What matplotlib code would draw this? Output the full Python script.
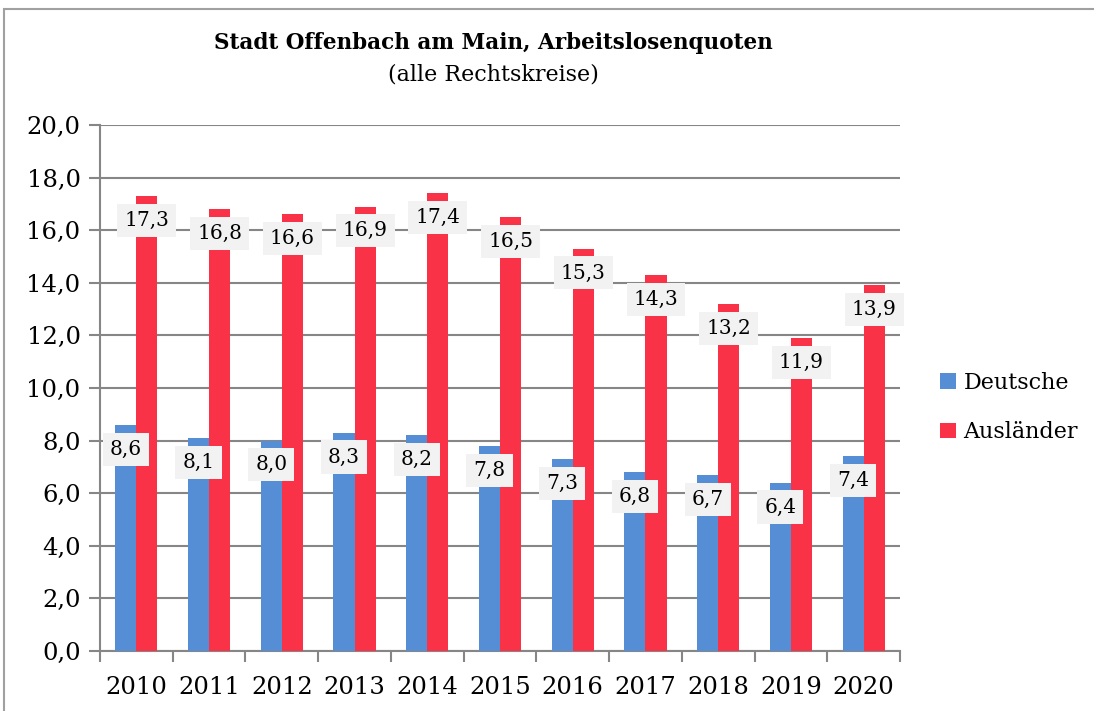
import numpy as np
import matplotlib.pyplot as plt
from matplotlib.patches import Rectangle

years = ['2010', '2011', '2012', '2013', '2014', '2015', '2016', '2017', '2018', '2019', '2020']
deutsche = [8.6, 8.1, 8.0, 8.3, 8.2, 7.8, 7.3, 6.8, 6.7, 6.4, 7.4]
auslaender = [17.3, 16.8, 16.6, 16.9, 17.4, 16.5, 15.3, 14.3, 13.2, 11.9, 13.9]

plt.rcParams['font.family'] = ['DejaVu Serif']

fig = plt.figure(figsize=(10.94, 7.11), dpi=100)
ax = fig.add_axes([0.0914, 0.0844, 0.7313, 0.7398])

# outer frame like the original chart area
fig.patches.append(Rectangle((0.004, -0.1), 1.1, 1.087, transform=fig.transFigure,
                             fill=False, edgecolor='#a0a0a0', lw=1.5))

x = np.arange(len(years))
w = 0.29
b1 = ax.bar(x - w/2, deutsche, w, color='#558ed5', label='Deutsche', zorder=3)
b2 = ax.bar(x + w/2, auslaender, w, color='#f93247', label='Ausländer', zorder=3)

for bars, vals in ((b1, deutsche), (b2, auslaender)):
    for r, v in zip(bars, vals):
        ax.annotate(('%.1f' % v).replace('.', ','),
                    (r.get_x() + r.get_width()/2, v), xytext=(0, -17.5),
                    textcoords='offset points', ha='center', va='center',
                    fontsize=14.5, zorder=5,
                    bbox=dict(boxstyle='square,pad=0.35', fc='#f2f2f2', ec='none'))

ax.set_xlim(-0.5, len(years) - 0.5)
ax.set_ylim(0, 20)
ax.set_yticks(np.arange(0, 21, 2))
ax.set_yticklabels([('%.1f' % v).replace('.', ',') for v in np.arange(0, 21, 2)], fontsize=17.5)
ax.set_xticks(x)
ax.set_xticklabels(years, fontsize=17.5)
ax.set_xticks(np.arange(-0.5, len(years)), minor=True)
ax.tick_params(axis='x', which='major', length=0, pad=18)
ax.tick_params(axis='x', which='minor', length=8, width=1.5, color='#868686')
ax.tick_params(axis='y', length=8, width=1.5, color='#868686', pad=6)
ax.yaxis.grid(True, color='#868686', lw=1.5, zorder=0)
for s in ['top', 'right']:
    ax.spines[s].set_visible(False)
for s in ['left', 'bottom']:
    ax.spines[s].set_color('#868686')
    ax.spines[s].set_linewidth(1.5)

fig.text(0.451, 0.94, 'Stadt Offenbach am Main, Arbeitslosenquoten', ha='center',
         va='center', fontsize=15.5, fontweight='bold')
fig.text(0.451, 0.895, '(alle Rechtskreise)', ha='center', va='center', fontsize=16)

ax.legend(loc='center left', bbox_to_anchor=(1.025, 0.463), frameon=False, fontsize=16,
          handlelength=0.7, handleheight=0.7, handletextpad=0.35, labelspacing=1.25)

plt.savefig('out.png', dpi=100)
plt.close(fig)
